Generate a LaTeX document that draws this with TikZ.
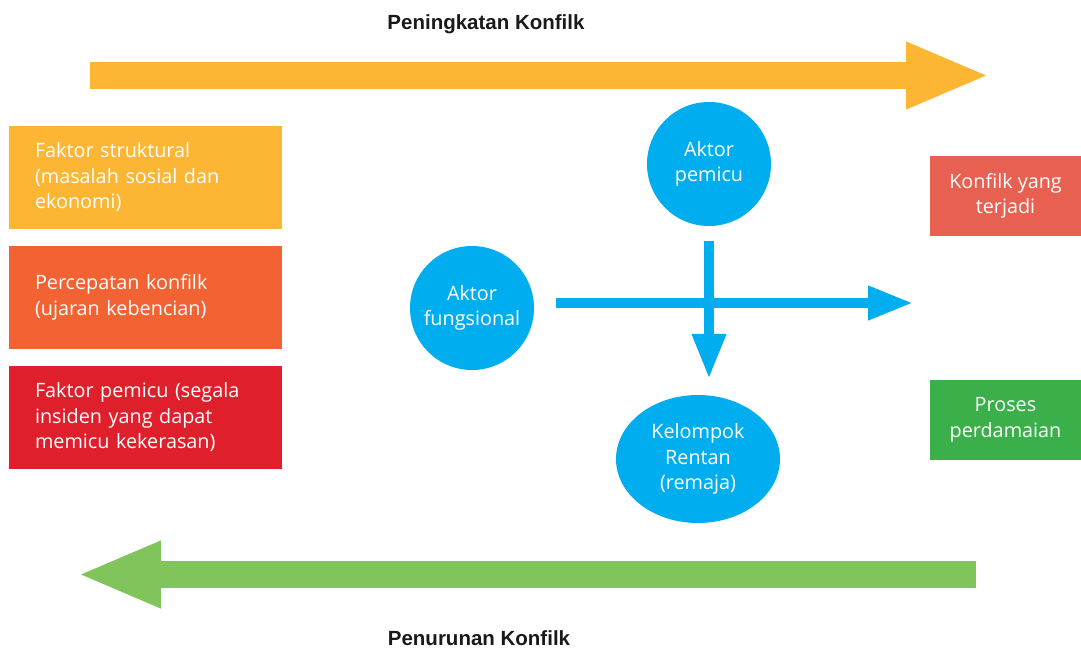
\documentclass[tikz,border=0pt]{standalone}
\usepackage{fontspec}
\setmainfont{Open Sans}
\newfontfamily\titlefont{Liberation Sans}
\usetikzlibrary{arrows.meta,shapes.geometric}
\definecolor{cyel}{HTML}{FDB633}
\definecolor{corg}{HTML}{F26232}
\definecolor{cred}{HTML}{DF1F2B}
\definecolor{cblue}{HTML}{00AEEF}
\definecolor{csalmon}{HTML}{E86052}
\definecolor{cgreen}{HTML}{3BB04A}
\definecolor{clgreen}{HTML}{80C45B}
\begin{document}
\begin{tikzpicture}[x=1pt,y=-1pt,
  titlelab/.style={font=\titlefont\bfseries\fontsize{20.5}{24}\selectfont, text=black!90, inner sep=0pt},
  bodyfont/.style={font=\fontsize{19.8}{25.5}\selectfont},
  lbox/.style={bodyfont, rectangle, minimum width=273pt, minimum height=103pt, inner xsep=26pt, inner ysep=0pt, text width=221pt, align=left, text=white},
  rbox/.style={bodyfont, rectangle, minimum width=151pt, minimum height=80pt, inner sep=0pt, align=center, text=white},
  actor/.style={bodyfont, circle, fill=cblue, minimum size=124pt, inner sep=0pt, align=center, text=white},
  bigarrow/.style={line width=27pt, -{Triangle[width=61pt,length=84pt]}},
  smallarrow/.style={draw=cblue, line width=10pt, -{Triangle[width=32pt,length=45pt]}}
]
\useasboundingbox (0,0) rectangle (1081,648);

% titles
\node[titlelab] (ttop) at (486,24) {Peningkatan Konfilk};
\node[titlelab] (tbot) at (479,638) {Penurunan Konfilk};

% big arrows
\coordinate (ts) at (90,75.5);
\coordinate (te) at (990,75.5);
\draw[bigarrow, draw=cyel] (ts) -- (te);
\coordinate (bs) at (976,574.5);
\coordinate (be) at (77,574.5);
\draw[bigarrow, draw=clgreen] (bs) -- (be);

% left boxes
\node[lbox, fill=cyel] (b1) at (145.5,177.5) {\mbox{Faktor struktural}\\\mbox{(masalah sosial dan}\\\mbox{ekonomi)}};
\node[lbox, fill=corg] (b2) at (145.5,297.5) {\mbox{Percepatan konfilk}\\\mbox{(ujaran kebencian)}};
\node[lbox, fill=cred] (b3) at (145.5,417.5) {\mbox{Faktor pemicu (segala}\\\mbox{insiden yang dapat}\\\mbox{memicu kekerasan)}};

% right boxes
\node[rbox, fill=csalmon] (r1) at (1005.5,196) {Konfilk yang\\terjadi};
\node[rbox, fill=cgreen] (r2) at (1005.5,420) {Proses\\perdamaian};

% actors
\node[actor] (pem) at (709,164) {Aktor\\pemicu};
\node[actor] (fung) at (472,308) {Aktor\\fungsional};
\node[bodyfont, ellipse, fill=cblue, minimum width=164pt, minimum height=128pt, inner sep=0pt, align=center, text=white] (kel) at (698,459) {Kelompok\\Rentan\\(remaja)};

% connectors
\coordinate (hend) at (913,303);
\draw[smallarrow, shorten <=22pt] (fung.east |- hend) -- (hend);
\draw[smallarrow, shorten <=15pt, shorten >=16pt] (pem.south) -- (pem.south |- kel.north);
\end{tikzpicture}
\end{document}
